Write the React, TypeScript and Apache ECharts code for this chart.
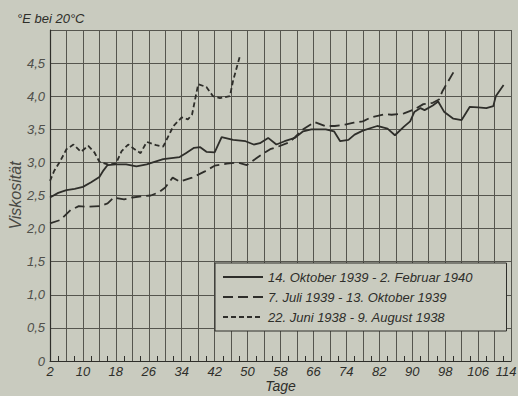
import { useEffect, useRef } from 'react';
import * as echarts from 'echarts';

// x axis starts at day 2; gridlines every 4 days, labels every 8 days
const X_START = 2;
const X_END = 114;
const xLabelDays = [2, 10, 18, 26, 34, 42, 50, 58, 66, 74, 82, 90, 98, 106, 114];
const yTickLabels = ['0', '0,5', '1,0', '1,5', '2,0', '2,5', '3,0', '3,5', '4,0', '4,5'];

const seriesNames = [
  '14. Oktober 1939 - 2. Februar 1940',
  '7. Juli 1939 - 13. Oktober 1939',
  '22. Juni 1938 - 9. August 1938',
];

// 14. Oktober 1939 - 2. Februar 1940 (solid)
const solidDays = [2, 4, 6, 8, 10, 12, 14, 15, 16, 18, 20.5, 23, 25.5, 27, 29.5, 33.5, 35, 37, 38.5, 40, 42, 43.7, 46.5, 49.5, 51.5, 53, 55, 57, 59, 61.5, 63.5, 65.5, 69, 71, 72.5, 74.5, 76, 78, 81.5, 84, 85.8, 88, 89.5, 90.5, 92, 93, 95, 96.3, 97.8, 100, 102, 104, 106, 108, 109.7, 110.3, 112.2];
const solidValues = [2.47, 2.54, 2.58, 2.6, 2.63, 2.7, 2.78, 2.88, 2.96, 2.97, 2.97, 2.94, 2.97, 3.0, 3.05, 3.08, 3.14, 3.22, 3.23, 3.16, 3.15, 3.38, 3.34, 3.32, 3.27, 3.29, 3.37, 3.27, 3.32, 3.37, 3.47, 3.5, 3.5, 3.47, 3.32, 3.34, 3.42, 3.48, 3.55, 3.51, 3.41, 3.54, 3.62, 3.76, 3.82, 3.79, 3.86, 3.92, 3.76, 3.66, 3.64, 3.84, 3.83, 3.82, 3.85, 4.0, 4.17];

// 7. Juli 1939 - 13. Oktober 1939 (long dash)
const longDashDays = [2, 4.5, 7, 9, 11, 14, 16, 17.5, 20, 22, 24.5, 26.5, 28.5, 30, 31.8, 33.5, 36.5, 39.5, 42, 45, 47.5, 49.8, 53, 55.5, 57.5, 60, 61.5, 63.5, 66.3, 68.8, 71.2, 73.7, 75.8, 78, 80, 83.5, 85, 88, 90.5, 92.7, 95, 96.5, 97.3, 100];
const longDashValues = [2.08, 2.13, 2.28, 2.34, 2.33, 2.34, 2.38, 2.47, 2.44, 2.47, 2.49, 2.5, 2.55, 2.62, 2.77, 2.71, 2.77, 2.86, 2.95, 2.98, 3.0, 2.96, 3.1, 3.2, 3.24, 3.3, 3.38, 3.5, 3.61, 3.55, 3.55, 3.57, 3.6, 3.62, 3.68, 3.73, 3.72, 3.74, 3.8, 3.88, 3.9, 3.95, 4.07, 4.36];

// 22. Juni 1938 - 9. August 1938 (short dash)
const shortDashDays = [2, 3, 4.5, 6, 7.7, 9.5, 11.3, 12.8, 14, 16, 18, 19.4, 21, 22.3, 24, 25.5, 27.8, 29.5, 32, 34, 35.5, 36.5, 38, 40, 41.6, 43.3, 45.7, 46.5, 48.2];
const shortDashValues = [2.72, 2.87, 3.02, 3.2, 3.27, 3.16, 3.25, 3.15, 3.01, 2.97, 2.98, 3.17, 3.27, 3.21, 3.14, 3.31, 3.26, 3.24, 3.55, 3.68, 3.65, 3.72, 4.18, 4.14, 4.0, 3.97, 4.0, 4.24, 4.62];

const BG = '#c9cbbf';
const GRID = '#55554e';
const INK = '#2e2e2a';
const FONT = '"Liberation Sans", Arial, sans-serif';

const toPairs = (days: number[], values: number[]) =>
  days.map((d, i) => [d - X_START, values[i]]);

export default function App() {
  const ref = useRef<HTMLDivElement>(null);

  useEffect(() => {
    document.body.style.margin = '0';
    document.body.style.background = BG;
    if (!ref.current) return;
    const chart = echarts.init(ref.current, undefined, { renderer: 'svg' });

    const lineSeries = (name: string, data: number[][], type: any) => ({
      name,
      type: 'line',
      data,
      symbol: 'none',
      smooth: false,
      lineStyle: { color: INK, width: 1.8, type },
      itemStyle: { color: INK },
      z: 2,
    });

    const labelText = { fontFamily: FONT, fontStyle: 'italic', fontSize: 13, color: INK };

    chart.setOption({
      animation: false,
      backgroundColor: BG,
      grid: { left: 50, right: 7, top: 30, bottom: 35, containLabel: false, outerBoundsMode: 'none' },
      xAxis: {
        type: 'value',
        min: 0,
        max: X_END - X_START,
        interval: 4,
        name: 'Tage',
        nameLocation: 'middle',
        nameGap: 18,
        nameMoveOverlap: false,
        nameTextStyle: { fontFamily: FONT, fontStyle: 'italic', fontSize: 14, color: INK },
        axisLine: { show: true, lineStyle: { color: INK, width: 1.2 } },
        axisTick: { show: false, inside: true },
        minorTick: { show: true, splitNumber: 2, length: 5, lineStyle: { color: INK, width: 1 } },
        minorSplitLine: { show: false },
        splitLine: { show: true, lineStyle: { color: GRID, width: 1 } },
        axisLabel: {
          margin: 4,
          ...labelText,
          showMaxLabel: true,
          showMinLabel: true,
          rich: { last: { ...labelText, padding: [0, 10, 0, 0] } },
          formatter: (v: number) => {
            const d = Math.round(v + X_START);
            if (!xLabelDays.includes(d)) return '';
            return d === X_END ? `{last|${d}}` : String(d);
          },
        },
      },
      yAxis: {
        type: 'value',
        min: 0,
        max: 5,
        interval: 0.5,
        name: 'Viskosität',
        nameLocation: 'middle',
        nameGap: 27,
        nameMoveOverlap: false,
        nameTextStyle: { fontFamily: FONT, fontStyle: 'italic', fontSize: 16, color: '#4a4a45' },
        axisLine: { show: true, lineStyle: { color: INK, width: 1.2 } },
        axisTick: { show: false },
        splitLine: { show: true, lineStyle: { color: GRID, width: 1 } },
        axisLabel: {
          margin: 5,
          fontFamily: FONT,
          fontStyle: 'italic',
          fontSize: 13,
          color: '#4f4f4a',
          formatter: (v: number) => yTickLabels[Math.round(v / 0.5)] ?? '',
        },
      },
      legend: {
        data: seriesNames,
        orient: 'vertical',
        left: 215,
        top: 263,
        padding: [7, 34, 7, 7],
        itemWidth: 40,
        itemHeight: 14,
        itemGap: 6,
        backgroundColor: BG,
        borderColor: INK,
        borderWidth: 1,
        borderRadius: 0,
        itemStyle: { opacity: 0, color: 'transparent', borderColor: 'transparent', borderWidth: 0 },
        textStyle: { fontFamily: FONT, fontStyle: 'italic', fontSize: 13, color: INK, lineHeight: 14 },
        z: 5,
      },
      graphic: [
        {
          type: 'text',
          left: 17,
          top: 12,
          style: { text: '°E bei 20°C', font: `italic 13px ${FONT}`, fill: INK },
        },
      ],
      series: [
        lineSeries(seriesNames[0], toPairs(solidDays, solidValues), 'solid'),
        lineSeries(seriesNames[1], toPairs(longDashDays, longDashValues), [10, 5]),
        lineSeries(seriesNames[2], toPairs(shortDashDays, shortDashValues), [5, 3]),
      ],
    });

    return () => chart.dispose();
  }, []);

  return <div ref={ref} style={{ width: 518, height: 396 }} />;
}
